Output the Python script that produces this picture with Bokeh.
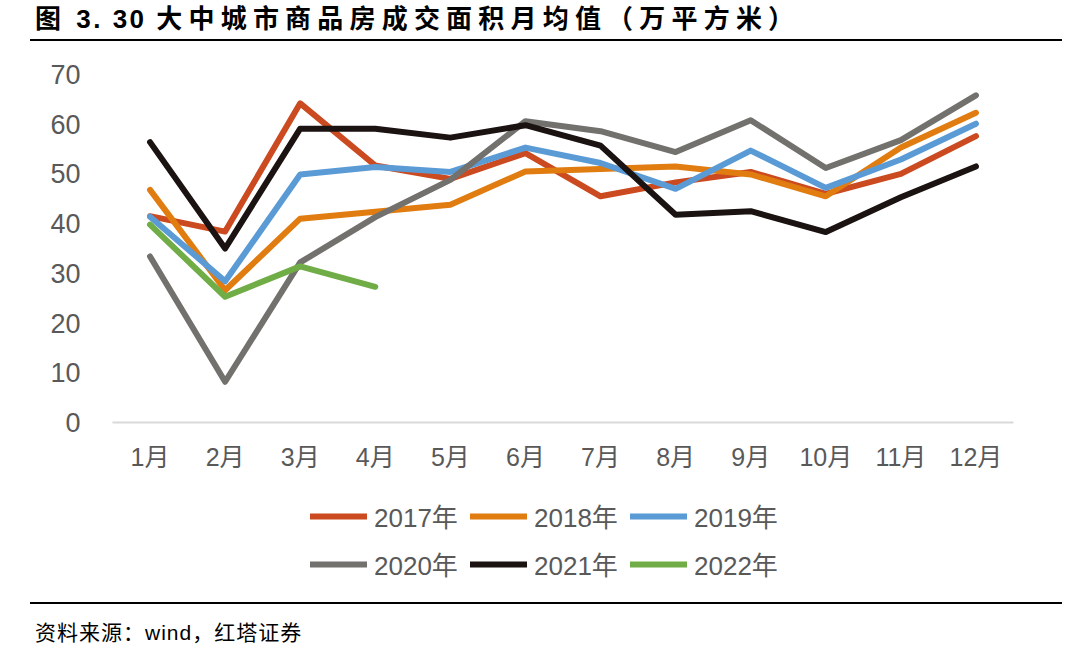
from bokeh.plotting import figure
from bokeh.models import (Legend, LegendItem, FixedTicker, FactorRange, Range1d, Div)
from bokeh.layouts import column
from bokeh.embed import file_html
from bokeh.resources import INLINE

months = ["1月", "2月", "3月", "4月", "5月", "6月", "7月", "8月", "9月", "10月", "11月", "12月"]
y_ticks = [0, 10, 20, 30, 40, 50, 60, 70]

s2017 = [41.5, 38.4, 64.2, 51.7, 49.0, 54.2, 45.5, 48.3, 50.4, 46.0, 50.0, 57.6]
s2018 = [46.8, 26.6, 41.0, 42.4, 43.8, 50.5, 51.0, 51.5, 49.9, 45.5, 55.3, 62.3]
s2019 = [41.4, 28.4, 49.9, 51.4, 50.4, 55.3, 52.2, 47.0, 54.7, 47.2, 52.9, 60.1]
s2020 = [33.4, 8.2, 32.2, 41.3, 48.8, 60.6, 58.6, 54.4, 60.8, 51.2, 56.8, 65.8]
s2021 = [56.4, 35.0, 59.1, 59.1, 57.3, 59.8, 55.7, 41.8, 42.5, 38.3, 45.3, 51.5]
s2022 = [39.8, 25.3, 31.4, 27.3]

series_names = ["2017年", "2018年", "2019年", "2020年", "2021年", "2022年"]
series_vals = [s2017, s2018, s2019, s2020, s2021, s2022]
colors = ["#CB4A1F", "#E07C10", "#5B9BD5", "#72716D", "#1A1311", "#70AD47"]

title_fig = "图"
title_num = "3. 30"
title_cn = "大中城市商品房成交面积月均值（万平方米）"
source_text = "资料来源：wind，红塔证券"

FONT = "Liberation Sans, Arial, Noto Sans CJK SC"

title_div = Div(width=1072, height=44, margin=0, text=(
    '<div style="position:relative;width:1072px;height:44px;">'
    '<div style="position:absolute;left:35px;top:3px;white-space:nowrap;'
    'font-family:\'Liberation Sans\',\'Noto Sans CJK SC\';font-weight:bold;'
    'font-size:26px;line-height:32px;color:#000;">'
    '<span style="letter-spacing:4px;">' + title_fig + ' </span>'
    '<span style="letter-spacing:2.5px;">' + title_num + ' </span>'
    '<span style="letter-spacing:6.2px;">' + title_cn + '</span>'
    '</div>'
    '<div style="position:absolute;left:30px;top:39px;width:1032px;height:2px;background:#000;"></div>'
    '</div>'))

src_div = Div(width=1072, height=47, margin=0, text=(
    '<div style="position:relative;width:1072px;height:47px;">'
    '<div style="position:absolute;left:30px;top:2px;width:1032px;height:2px;background:#000;"></div>'
    '<div style="position:absolute;left:35px;top:20px;white-space:nowrap;'
    'font-family:\'Liberation Sans\',\'Noto Sans CJK SC\';'
    'font-size:21px;line-height:26px;letter-spacing:1px;color:#000;">'
    + source_text +
    '</div>'
    '</div>'))

p = figure(width=1072, height=446, output_backend="svg", toolbar_location=None,
           x_range=FactorRange(*months, range_padding=0), y_range=Range1d(0, 70),
           min_border_left=112, min_border_right=59, min_border_top=30, min_border_bottom=68,
           margin=0)
p.outline_line_color = None
p.xgrid.grid_line_color = None
p.ygrid.grid_line_color = None

p.yaxis.ticker = FixedTicker(ticks=y_ticks)
p.yaxis.axis_line_color = None
p.yaxis.major_tick_line_color = None
p.yaxis.minor_tick_line_color = None
p.yaxis.major_label_standoff = 26
p.yaxis.major_label_text_font = FONT
p.yaxis.major_label_text_font_size = "27px"
p.yaxis.major_label_text_color = "#595959"

p.xaxis.axis_line_color = "#D9D9D9"
p.xaxis.axis_line_width = 2
p.xaxis.major_tick_line_color = None
p.xaxis.minor_tick_line_color = None
p.xaxis.major_label_standoff = 14
p.xaxis.major_label_text_font = FONT
p.xaxis.major_label_text_font_size = "25px"
p.xaxis.major_label_text_color = "#595959"

# legend-only figure below the chart
lf = figure(width=1072, height=110, output_backend="svg", toolbar_location=None,
            x_range=FactorRange(*months, range_padding=0), y_range=Range1d(0, 70),
            x_axis_location=None, y_axis_location=None,
            min_border_left=0, min_border_right=0, min_border_top=0, min_border_bottom=0,
            margin=0)
lf.outline_line_color = None
lf.xgrid.grid_line_color = None
lf.ygrid.grid_line_color = None

items = {}
for name, vals, c in zip(series_names, series_vals, colors):
    p.line(x=months[:len(vals)], y=vals, line_color=c, line_width=6,
           line_cap="round", line_join="round")
    r = lf.line(x=months[:len(vals)], y=vals, line_color=c, line_width=6,
                line_cap="round", line_join="round", visible=False)
    items[name] = LegendItem(label=name, renderers=[r])

# legend fills column by column: order so rows read 2017-2019 / 2020-2022
order = [0, 3, 1, 4, 2, 5]
legend = Legend(items=[items[series_names[i]] for i in order], ncols=3, location=(198, 18),
                glyph_width=57, glyph_height=30, label_height=30, label_width=85,
                label_standoff=7, spacing=11, padding=0, margin=0,
                label_text_font=FONT, label_text_font_size="26px",
                label_text_color="#595959",
                border_line_color=None, background_fill_alpha=0)
lf.add_layout(legend, "center")

layout = column(title_div, p, lf, src_div, spacing=0, margin=0)
open("out.html", "w").write(file_html(layout, INLINE))
